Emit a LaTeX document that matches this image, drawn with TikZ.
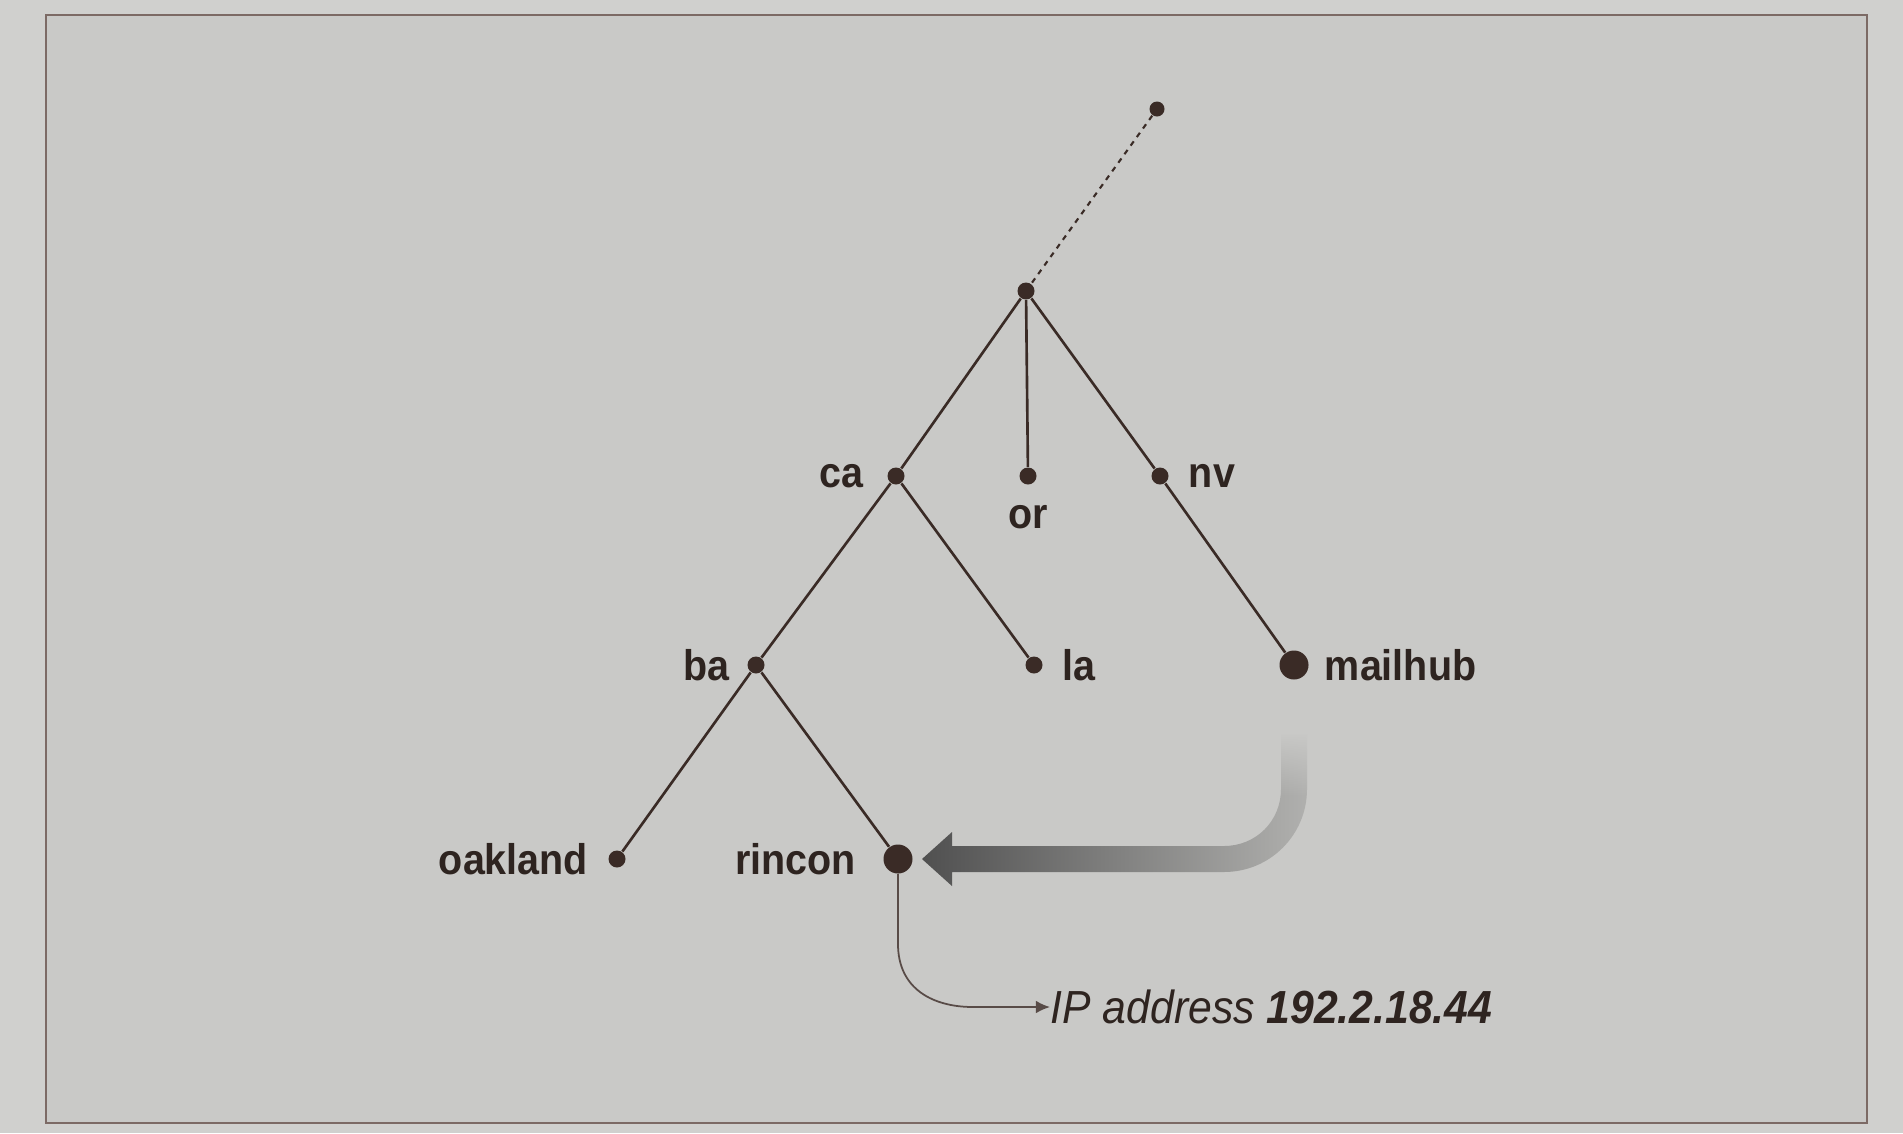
\documentclass[tikz,border=0pt]{standalone}
\usepackage{fontspec}
\setmainfont{Liberation Sans}[FakeStretch=0.92]
\usepackage{tikz}
\usetikzlibrary{arrows.meta,positioning,calc,fadings}
\definecolor{paperbg}{HTML}{C9C9C7}
\definecolor{paperedge}{HTML}{D0D0CE}
\definecolor{frameline}{HTML}{7C6A65}
\definecolor{inkbrown}{HTML}{3A2B26}
\definecolor{inktext}{HTML}{2E2420}
\definecolor{hintdark}{HTML}{505050}
\definecolor{hintlight}{HTML}{B0B0AE}

\begin{document}
\begin{tikzpicture}[
  x=0.01cm, y=-0.01cm,
  dot/.style={circle, fill=inkbrown, inner sep=0pt, minimum size=0.17cm},
  hostdot/.style={dot, minimum size=0.29cm},
  branch/.style={draw=inkbrown, line width=0.75pt},
  uplink/.style={branch, line width=0.6pt, dash pattern=on 1.5pt off 1.5pt},
  zonelabel/.style={inner sep=0pt, text=inktext, font=\fontsize{12.2pt}{14pt}\selectfont\bfseries},
  resolvearrow/.style={draw=inkbrown!85, line width=0.5pt, -{Latex[length=4pt, width=3.6pt]}}
]
  \useasboundingbox (0,0) rectangle (1903,1133);

  % paper and frame
  \fill[paperedge] (0,0) rectangle (1903,1133);
  \fill[paperbg, draw=frameline, line width=0.7pt] (46,15) rectangle (1867,1123);

  % --- domain tree ---
  \node[dot, minimum size=0.15cm] (top) at (1157,109) {};
  \node[dot] (root) at (1026,291) {};

  \node[dot] (ca) at (896,476) {};
  \node[dot] (or) at (1028,476) {};
  \node[dot] (nv) at (1160,476) {};

  \node[dot] (ba) at (756,665) {};
  \node[dot] (la) at (1034,665) {};
  \node[hostdot] (mailhub) at (1294,665) {};

  \node[dot] (oakland) at (617,859) {};
  \node[hostdot] (rincon) at (898,859) {};

  % labels
  \node[zonelabel, left=0.23cm of ca] (calbl) {ca};
  \node[zonelabel, below=0.19cm of or] (orlbl) {or};
  \node[zonelabel, right=0.19cm of nv] (nvlbl) {nv};
  \node[zonelabel, left=0.17cm of ba] (balbl) {ba};
  \node[zonelabel, right=0.19cm of la] (lalbl) {la};
  \node[zonelabel, right=0.15cm of mailhub] (mailhublbl) {mailhub};
  \node[zonelabel, left=0.19cm of oakland] (oaklandlbl) {oakland};
  \node[zonelabel, left=0.26cm of rincon] (rinconlbl) {rincon};

  % branches
  \draw[uplink] (top) -- (root);
  \draw[branch] (root) -- (ca);
  \draw[branch] (root) -- (or);
  \draw[branch] (root) -- (nv);
  \draw[branch] (ca) -- (ba);
  \draw[branch] (ca) -- (la);
  \draw[branch] (nv) -- (mailhub);
  \draw[branch] (ba) -- (oakland);
  \draw[branch] (ba) -- (rincon);

  % Lookup hint from mailhub back to rincon
  \begin{scope}[shift={(mailhub |- rincon)}]
    \shade[left color=hintdark, right color=hintlight]
      (13,-125) -- (13,-70) .. controls (13,-24) and (-24,13) .. (-70,13)
      -- (-342,13) -- (-342,27) -- (-372,0) -- (-342,-27) -- (-342,-13)
      -- (-70,-13) .. controls (-38,-13) and (-13,-38) .. (-13,-70)
      -- (-13,-125) -- cycle;
    \fill[paperbg, path fading=south] (-16,-127) rectangle (16,-62);
  \end{scope}

  % Answer
  \node[anchor=west, inner sep=0pt, text=inktext,
        font=\fontsize{13.2pt}{16pt}\selectfont\itshape] (ip) at (1050,1007)
    {IP address \textbf{192.2.18.44}};
  \draw[resolvearrow] (rincon) -- ++(0,85) .. controls +(0,45) and +(-40,0) .. ++(75,63) -- (ip.west);

\end{tikzpicture}
\end{document}
